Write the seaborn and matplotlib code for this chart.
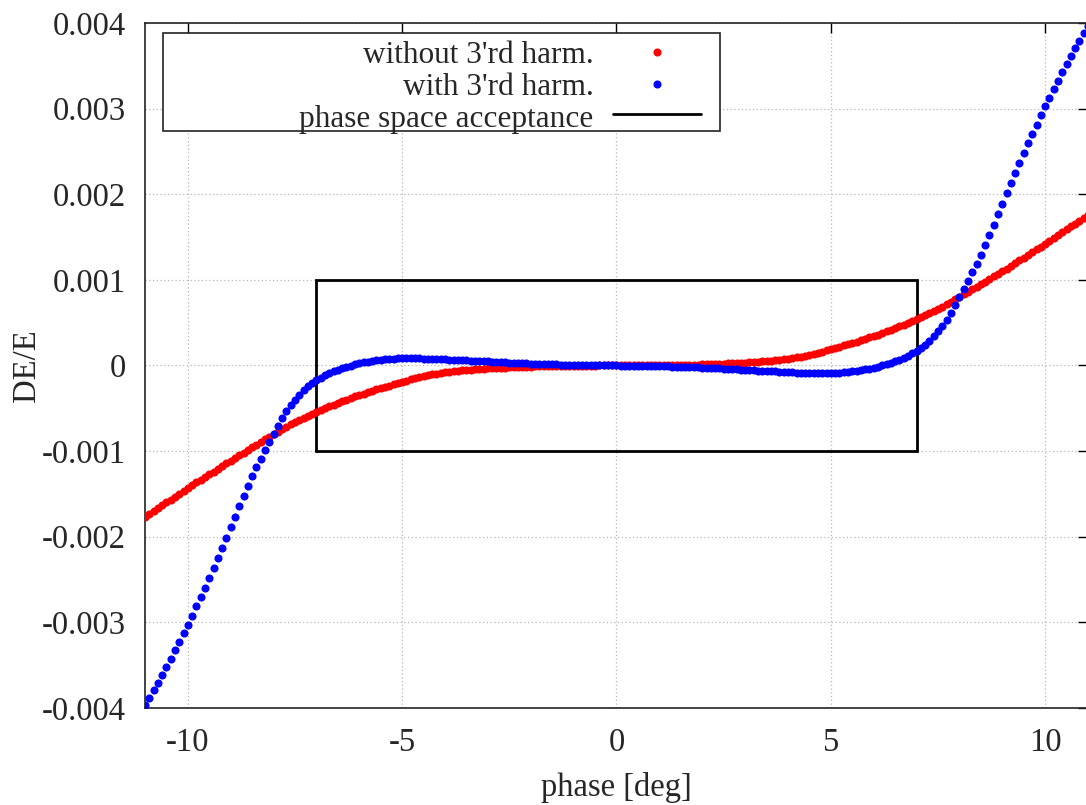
import numpy as np
import matplotlib
matplotlib.use("Agg")
import matplotlib.pyplot as plt
import seaborn as sns
from matplotlib.ticker import FuncFormatter
from matplotlib.patches import Rectangle

# --- data (DE/E in units of 1e-3) ---
phase = np.arange(-110, 111) / 10.0  # sampling grid, deg

red_neg = [
    -1.770, -1.736, -1.702, -1.668, -1.634, -1.600, -1.566, -1.532, -1.498, -1.464,
    -1.430, -1.398, -1.366, -1.334, -1.302, -1.270, -1.238, -1.206, -1.174, -1.142,
    -1.110, -1.079, -1.048, -1.017, -0.986, -0.955, -0.924, -0.893, -0.862, -0.831,
    -0.800, -0.771, -0.743, -0.716, -0.689, -0.663, -0.637, -0.612, -0.587, -0.563,
    -0.540, -0.518, -0.497, -0.476, -0.456, -0.436, -0.417, -0.398, -0.380, -0.362,
    -0.345, -0.328, -0.312, -0.296, -0.280, -0.264, -0.249, -0.234, -0.219, -0.204,
    -0.190, -0.176, -0.162, -0.149, -0.137, -0.125, -0.114, -0.104, -0.095, -0.087,
    -0.080, -0.074, -0.068, -0.063, -0.058, -0.053, -0.049, -0.045, -0.041, -0.038,
    -0.035, -0.032, -0.029, -0.026, -0.024, -0.021, -0.019, -0.017, -0.015, -0.014,
    -0.012, -0.011, -0.009, -0.008, -0.007, -0.006, -0.005, -0.004, -0.003, -0.003,
    -0.002, -0.002, -0.001, -0.001, -0.001, -0.001, 0.000, 0.000, 0.000, 0.000,
]
red_pos = [
    0.000, 0.000, 0.000, 0.000, 0.000, 0.001, 0.001, 0.001, 0.001, 0.002,
    0.002, 0.003, 0.003, 0.004, 0.005, 0.006, 0.007, 0.008, 0.009, 0.011,
    0.012, 0.014, 0.015, 0.017, 0.019, 0.021, 0.024, 0.026, 0.029, 0.032,
    0.035, 0.038, 0.041, 0.045, 0.049, 0.053, 0.058, 0.063, 0.068, 0.074,
    0.080, 0.087, 0.095, 0.104, 0.114, 0.125, 0.137, 0.149, 0.162, 0.176,
    0.190, 0.204, 0.219, 0.234, 0.249, 0.264, 0.280, 0.296, 0.312, 0.328,
    0.345, 0.362, 0.380, 0.398, 0.417, 0.436, 0.456, 0.476, 0.497, 0.518,
    0.540, 0.563, 0.587, 0.612, 0.637, 0.663, 0.689, 0.716, 0.743, 0.771,
    0.800, 0.830, 0.860, 0.890, 0.920, 0.950, 0.980, 1.010, 1.040, 1.070,
    1.100, 1.132, 1.164, 1.196, 1.228, 1.260, 1.292, 1.324, 1.356, 1.388,
    1.420, 1.454, 1.488, 1.522, 1.556, 1.590, 1.624, 1.658, 1.692, 1.726,
    1.760,
]

blue_neg = [
    -3.965, -3.880, -3.793, -3.704, -3.613, -3.520, -3.425, -3.328, -3.229, -3.128,
    -3.025, -2.920, -2.813, -2.704, -2.593, -2.480, -2.365, -2.248, -2.130, -2.010,
    -1.890, -1.765, -1.640, -1.520, -1.405, -1.295, -1.190, -1.088, -0.989, -0.893,
    -0.800, -0.705, -0.615, -0.535, -0.465, -0.400, -0.342, -0.290, -0.245, -0.205,
    -0.170, -0.142, -0.116, -0.092, -0.070, -0.050, -0.033, -0.017, -0.002, 0.012,
    0.025, 0.036, 0.046, 0.056, 0.064, 0.070, 0.075, 0.078, 0.080, 0.082,
    0.082, 0.083, 0.083, 0.083, 0.082, 0.081, 0.080, 0.078, 0.076, 0.074,
    0.072, 0.070, 0.068, 0.066, 0.063, 0.060, 0.058, 0.055, 0.052, 0.050,
    0.047, 0.045, 0.042, 0.040, 0.037, 0.035, 0.032, 0.030, 0.027, 0.025,
    0.023, 0.021, 0.019, 0.017, 0.015, 0.014, 0.012, 0.011, 0.009, 0.008,
    0.007, 0.006, 0.005, 0.005, 0.004, 0.003, 0.002, 0.002, 0.001, 0.001,
]
blue_pos = [
    0.000, -0.001, -0.002, -0.002, -0.003, -0.004, -0.005, -0.005, -0.006, -0.007,
    -0.008, -0.009, -0.011, -0.012, -0.014, -0.016, -0.017, -0.019, -0.021, -0.023,
    -0.025, -0.027, -0.030, -0.032, -0.035, -0.037, -0.040, -0.042, -0.045, -0.047,
    -0.050, -0.053, -0.056, -0.059, -0.062, -0.065, -0.067, -0.070, -0.073, -0.075,
    -0.078, -0.080, -0.082, -0.084, -0.086, -0.087, -0.088, -0.089, -0.089, -0.089,
    -0.088, -0.086, -0.084, -0.080, -0.076, -0.070, -0.064, -0.056, -0.046, -0.036,
    -0.025, -0.012, 0.002, 0.017, 0.033, 0.050, 0.070, 0.092, 0.116, 0.142,
    0.170, 0.205, 0.245, 0.290, 0.342, 0.400, 0.465, 0.535, 0.615, 0.705,
    0.800, 0.893, 0.989, 1.088, 1.190, 1.295, 1.405, 1.520, 1.640, 1.765,
    1.890, 2.010, 2.130, 2.248, 2.365, 2.480, 2.593, 2.704, 2.813, 2.920,
    3.025, 3.128, 3.229, 3.328, 3.425, 3.520, 3.613, 3.704, 3.793, 3.880,
    3.965,
]

de_without = np.array(red_neg + red_pos) * 1e-3
de_with = np.array(blue_neg + blue_pos) * 1e-3

# phase space acceptance window
acc_phase = [-7.0, 7.0]
acc_de = [-0.001, 0.001]

xticks = [-10, -5, 0, 5, 10]
yticks = [-0.004, -0.003, -0.002, -0.001, 0, 0.001, 0.002, 0.003, 0.004]

labels = ["without 3'rd harm.", "with 3'rd harm.", "phase space acceptance"]

# --- style ---
sns.set_theme(style="white")
plt.rcParams['font.family'] = ['Liberation Serif', 'DejaVu Serif']
plt.rcParams['axes.unicode_minus'] = False
fs = 23.5
fs_leg = 22.5

fig = plt.figure(figsize=(10.86, 8.05), dpi=100)
ax = fig.add_axes([145 / 1086, 97 / 805, 943 / 1086, 685 / 805])

sns.scatterplot(x=phase, y=de_without, color='#ff0000', s=34, linewidth=0,
                label=labels[0], ax=ax, zorder=3)
sns.scatterplot(x=phase, y=de_with, color='#0000ff', s=34, linewidth=0,
                label=labels[1], ax=ax, zorder=4)

box_x = [acc_phase[0], acc_phase[1], acc_phase[1], acc_phase[0], acc_phase[0]]
box_y = [acc_de[0], acc_de[0], acc_de[1], acc_de[1], acc_de[0]]
ax.plot(box_x, box_y, color='black', lw=2.0, label=labels[2], zorder=2,
        solid_joinstyle='miter')

ax.set_xlim(-11, 11)
ax.set_ylim(-0.004, 0.004)
ax.set_xticks(xticks)
ax.set_yticks(yticks)
ax.xaxis.set_major_formatter(FuncFormatter(lambda v, p: f'{v:g}'))
ax.yaxis.set_major_formatter(FuncFormatter(lambda v, p: f'{v:g}'))
ax.tick_params(direction='in', length=7, width=1, color='black',
               top=True, right=True, labelsize=fs)
ax.tick_params(axis='x', pad=14)
ax.tick_params(axis='y', pad=14)
ax.grid(True, linestyle=(0, (1, 2)), color='#b8b8b8', lw=0.9)
for sp in ax.spines.values():
    sp.set_color('#222222')
    sp.set_linewidth(1.2)

ax.set_xlabel('phase [deg]', fontsize=fs)
ax.set_ylabel('DE/E', fontsize=fs)
ax.xaxis.set_label_coords(0.5, -0.093)
ax.yaxis.set_label_coords(-0.109, 0.5)

# legend box (white filled frame)
ax.add_patch(Rectangle((0.019, 0.842), 0.591, 0.143, transform=ax.transAxes,
                       facecolor='white', edgecolor='#222222', lw=1.2, zorder=5))
leg = ax.legend(loc='upper right', bbox_to_anchor=(0.5896, 0.979), frameon=False,
                markerfirst=False, fontsize=fs_leg, handlelength=2.8, handletextpad=0.64,
                handleheight=1.05, labelspacing=0.0, borderpad=0, borderaxespad=0)
leg.set_zorder(6)

fig.savefig('out.png', dpi=100)
